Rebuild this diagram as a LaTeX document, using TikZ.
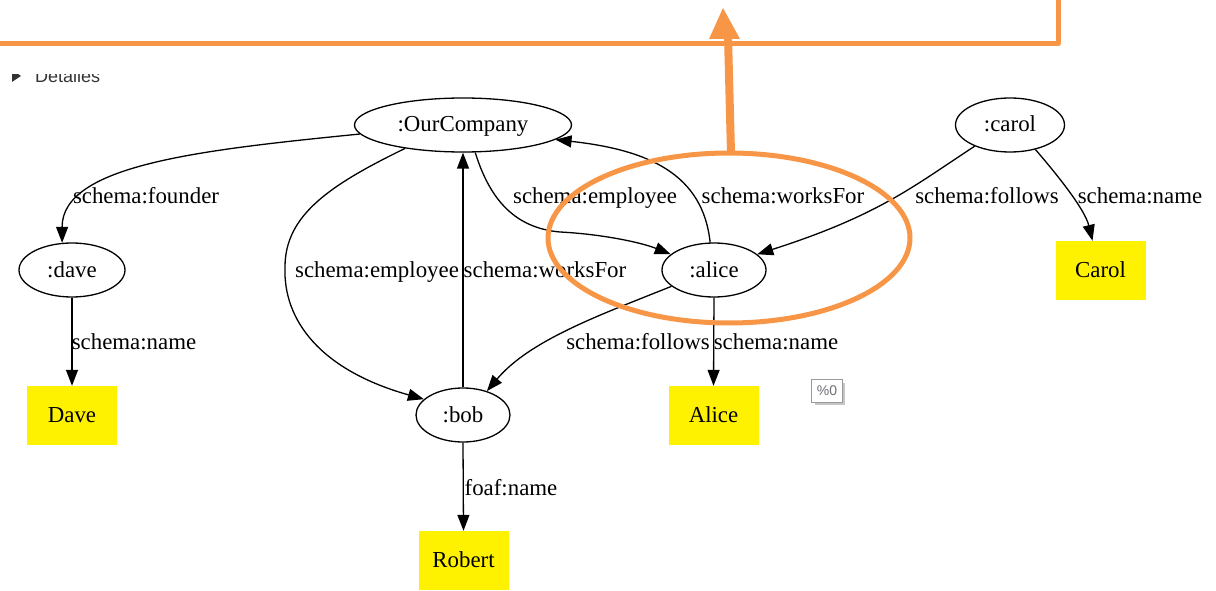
\documentclass[tikz,border=0pt]{standalone}
\usepackage{fontspec}
\setmainfont{Liberation Serif}
\newfontfamily\uisans{Liberation Sans}
\usetikzlibrary{arrows.meta,shapes.geometric}
\definecolor{hilite}{RGB}{247,150,70}
\definecolor{uigray}{RGB}{51,51,51}
\definecolor{tagtext}{RGB}{110,110,120}

\begin{document}
\begin{tikzpicture}[x=1pt,y=-1pt,
  every node/.style={font=\fontsize{22.86}{27}\selectfont},
  res/.style={ellipse, draw, line width=1.3pt, inner sep=0pt, minimum height=54pt,
              text height=16pt, text depth=2pt},
  lit/.style={rectangle, fill=yellow, inner sep=0pt, minimum width=90pt,
              minimum height=59pt, text height=16pt, text depth=2pt},
  rel/.style={line width=1.3pt, -{Triangle[length=16pt,width=12pt]}},
  lbl/.style={anchor=base, inner sep=0pt},
  mark line/.style={hilite, line width=5pt, line join=round},
]
\useasboundingbox (0,0) rectangle (1216,591);

% collapsed "Detalles" summary, partly hidden under the panel above
\begin{scope}
  \clip (0,75) rectangle (200,100);
  \fill[uigray] (12,70) -- (21,76) -- (12,82) -- cycle;
  \node[anchor=base west, inner sep=0pt, font=\uisans\fontsize{18}{20}\selectfont,
        text=uigray] (det) at (35,83) {Detalles};
\end{scope}

% resources
\node[res, minimum width=217pt] (oc)    at (463,125)  {:OurCompany};
\node[res, minimum width=109pt] (carol) at (1010,125) {:carol};
\node[res, minimum width=106pt] (dave)  at (72,270)   {:dave};
\node[res, minimum width=104pt] (alice) at (714,270)  {:alice};
\node[res, minimum width=94pt]  (bob)   at (463,415)  {:bob};

% literals
\node[lit] (daveL)   at (72,415.5)    {Dave};
\node[lit] (aliceL)  at (713.5,415.5) {Alice};
\node[lit] (carolL)  at (1100.5,270.5){Carol};
\node[lit] (robertL) at (463.5,560.5) {Robert};

% properties
\draw[rel] (oc.185) .. controls (200,150) and (62,165) .. (dave.110);
\draw[rel] (oc.202) .. controls (330,185) and (285,215) .. (285,267)
                    .. controls (283,320) and (320,370) .. (bob.158);
\draw[rel] (bob.north) -- (oc.south);
\draw[rel] (oc.-66) .. controls (490,200) and (515,228) .. (560,232)
                    .. controls (600,234) and (640,242) .. (alice.160);
\draw[rel] (alice.98) .. controls (703,175) and (650,150) .. (oc.-9);
\draw[rel] (carol.211) .. controls (915,185) and (880,215) .. (alice.20);
\draw[rel] (carol.-44) .. controls (1060,178) and (1085,210) .. ([xshift=-8pt]carolL.north);
\draw[rel] (dave.south) -- (daveL.north);
\draw[rel] (alice.201) .. controls (600,315) and (530,340) .. (bob.45);
\draw[rel] (alice.south) -- (aliceL.north);
\draw[rel] (bob.south) -- (robertL.north);

% property labels
\node[lbl] (lFounder)   at (146,204)  {schema:founder};
\node[lbl] (lEmpBob)    at (377,277)  {schema:employee};
\node[lbl] (lWorksBob)  at (545,277)  {schema:worksFor};
\node[lbl] (lEmpAlice)  at (595,204)  {schema:employee};
\node[lbl] (lWorksAli)  at (783,204)  {schema:worksFor};
\node[lbl] (lFolCarol)  at (987,204)  {schema:follows};
\node[lbl] (lNameCarol) at (1140,204) {schema:name};
\node[lbl] (lNameDave)  at (134,349)  {schema:name};
\node[lbl] (lFolAlice)  at (638,349)  {schema:follows};
\node[lbl] (lNameAlice) at (776,349)  {schema:name};
\node[lbl] (lFoaf)      at (511,495)  {foaf:name};

% graph id tag
\fill[gray!45] (815,383) rectangle (845,405);
\node[draw=gray!80, fill=white, line width=1pt, minimum width=31pt, minimum height=23pt,
      inner sep=0pt, font=\uisans\fontsize{14}{16}\selectfont, text=tagtext] (tag) at (827,390.5) {\%0};

% highlight: panel border, ring around :alice and pointer
\draw[mark line] (0,44) -- (1058,44) -- (1058,-3);
\draw[hilite, line width=5pt] (729,238) ellipse [x radius=181, y radius=85];
\coordinate (ringTop) at (731,153);
\coordinate (neck)    at (728,36);
\coordinate (tip)     at (723,8);
\draw[hilite, line width=8pt] (ringTop) -- (neck);
\fill[hilite] (709,39) -- (tip) -- (740,39) -- cycle;
\end{tikzpicture}
\end{document}
